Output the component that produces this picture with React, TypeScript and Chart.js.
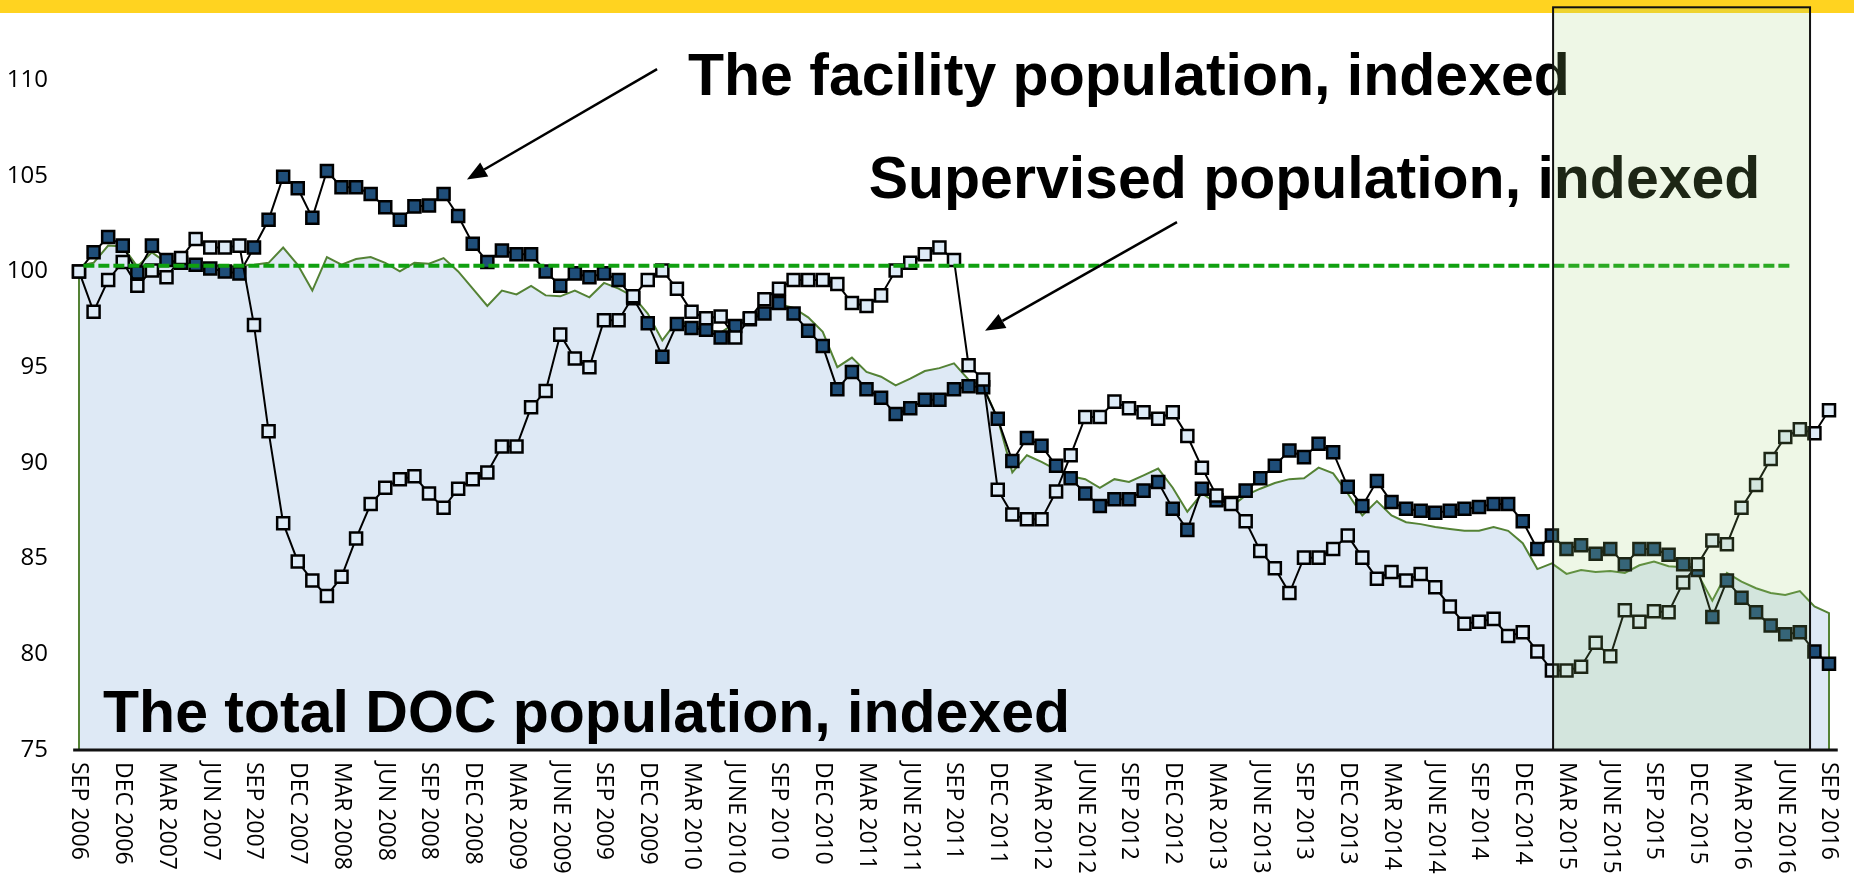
import React, { useEffect, useRef } from "react";
import { Chart, registerables } from "chart.js";

Chart.register(...registerables);

const CANVAS_W = 1854;
const CANVAS_H = 881;

// Quarterly tick labels (every 3 months, starting SEP 2006)
const TICK_LABELS = [
  "SEP 2006", "DEC 2006", "MAR 2007", "JUN 2007", "SEP 2007", "DEC 2007",
  "MAR 2008", "JUN 2008", "SEP 2008", "DEC 2008", "MAR 2009", "JUNE 2009",
  "SEP 2009", "DEC 2009", "MAR 2010", "JUNE 2010", "SEP 2010", "DEC 2010",
  "MAR 2011", "JUNE 2011", "SEP 2011", "DEC 2011", "MAR 2012", "JUNE 2012",
  "SEP 2012", "DEC 2012", "MAR 2013", "JUNE 2013", "SEP 2013", "DEC 2013",
  "MAR 2014", "JUNE 2014", "SEP 2014", "DEC 2014", "MAR 2015", "JUNE 2015",
  "SEP 2015", "DEC 2015", "MAR 2016", "JUNE 2016", "SEP 2016",
];
const MONTHS_PER_TICK = 3;

const Y_MIN = 75;
const Y_MAX = 113.45;
const Y_STEP = 5;

// Monthly values, SEP 2006 .. SEP 2016 (121 months), indexed
const FACILITY = [
  100.0, 101.0, 101.8, 101.35, 99.95, 101.35, 100.6, 100.45, 100.35, 100.15,
  100.0, 99.9, 101.25, 102.7, 104.95, 104.35, 102.8, 105.25, 104.4, 104.4,
  104.05, 103.35, 102.7, 103.4, 103.45, 104.05, 102.9, 101.45, 100.5, 101.1,
  100.9, 100.9, 100.0, 99.25, 99.9, 99.7, 99.9, 99.55, 98.6, 97.3,
  95.55, 97.25, 97.05, 96.95, 96.55, 97.15, 97.5, 97.8, 98.35, 97.8,
  96.9, 96.1, 93.85, 94.75, 93.85, 93.4, 92.55, 92.85, 93.3, 93.3,
  93.85, 94.0, 93.95, 92.3, 90.1, 91.3, 90.9, 89.85, 89.2, 88.4,
  87.75, 88.1, 88.1, 88.55, 89.0, 87.6, 86.5, 88.65, 88.05, 87.9,
  88.55, 89.2, 89.85, 90.65, 90.3, 91.0, 90.55, 88.75, 87.75, 89.05,
  87.95, 87.6, 87.5, 87.4, 87.5, 87.6, 87.7, 87.85, 87.85, 86.95,
  85.5, 86.2, 85.5, 85.7, 85.25, 85.5, 84.7, 85.5, 85.5, 85.2,
  84.7, 84.4, 81.95, 83.85, 82.95, 82.2, 81.5, 81.05, 81.15, 80.15,
  79.5,
];

const SUPERVISED = [
  100.0, 97.9, 99.55, 100.5, 99.25, 100.05, 99.7, 100.7, 101.7, 101.25,
  101.25, 101.35, 97.2, 91.65, 86.85, 84.85, 83.85, 83.05, 84.05, 86.05,
  87.85, 88.7, 89.15, 89.3, 88.4, 87.65, 88.65, 89.15, 89.5, 90.85,
  90.85, 92.9, 93.75, 96.7, 95.45, 95.0, 97.45, 97.45, 98.7, 99.55,
  100.05, 99.1, 97.9, 97.55, 97.65, 96.55, 97.55, 98.55, 99.1, 99.55,
  99.55, 99.55, 99.35, 98.35, 98.2, 98.75, 100.05, 100.45, 100.9, 101.25,
  100.6, 95.1, 94.35, 88.6, 87.3, 87.05, 87.05, 88.5, 90.4, 92.4,
  92.4, 93.2, 92.85, 92.65, 92.3, 92.65, 91.4, 89.75, 88.3, 87.85,
  86.95, 85.4, 84.5, 83.2, 85.05, 85.05, 85.5, 86.2, 85.05, 83.95,
  84.3, 83.85, 84.2, 83.5, 82.5, 81.6, 81.7, 81.85, 80.95, 81.15,
  80.15, 79.15, 79.15, 79.35, 80.6, 79.9, 82.3, 81.7, 82.25, 82.2,
  83.75, 84.7, 85.95, 85.75, 87.65, 88.85, 90.2, 91.35, 91.75, 91.55,
  92.75,
];

const TOTAL = [
  100.3, 100.45, 101.35, 101.3, 100.25, 101.0, 100.45, 100.4, 100.3, 100.3,
  100.3, 100.3, 100.35, 100.45, 101.25, 100.35, 99.0, 100.75, 100.35, 100.65,
  100.75, 100.45, 100.0, 100.45, 100.4, 100.7, 100.0, 99.1, 98.2, 99.0,
  98.8, 99.25, 98.75, 98.7, 99.0, 98.65, 99.4, 99.1, 98.7, 97.8,
  96.4, 97.4, 97.2, 97.0, 96.8, 97.3, 97.6, 97.9, 98.3, 98.1,
  97.6, 96.85, 95.0, 95.5, 94.75, 94.5, 94.05, 94.4, 94.8, 94.95,
  95.2, 94.35, 94.0, 92.3, 89.5, 90.4, 90.05, 89.65, 89.3, 89.15,
  88.7, 89.15, 89.0, 89.35, 89.7, 88.7, 87.45, 88.4, 87.9, 87.7,
  88.3, 88.65, 88.95, 89.15, 89.2, 89.75, 89.45, 88.4, 87.25, 88.0,
  87.25, 86.9, 86.8, 86.65, 86.55, 86.45, 86.45, 86.65, 86.45, 85.8,
  84.45, 84.75, 84.2, 84.4, 84.3, 84.35, 84.25, 84.65, 84.85, 84.6,
  84.55, 84.2, 82.8, 84.25, 83.8, 83.45, 83.2, 83.1, 83.3, 82.5,
  82.15,
];

// Dashed reference level
const REF_LEVEL = 100.3;
const REF_FROM = 0.3;
const REF_TO = 117.5;

// Annotations (in data units: month index, index value)
const NOTES = [
  { text: "The facility population, indexed", x: 41.76, y: 109.22 },
  { text: "Supervised population, indexed", x: 54.15, y: 103.84 },
  { text: "The total DOC population, indexed", x: 1.65, y: 75.95 },
];
const ARROWS = [
  { from: [39.64, 110.57], to: [26.6, 104.8] },
  { from: [75.29, 102.58], to: [62.13, 96.9] },
];
const HIGHLIGHT = { x0: 101.08, x1: 118.7, y0: 75, y1: 113.8 };

const toPts = (arr: number[]) => arr.map((v, i) => ({ x: i, y: v }));

const decorPlugin = {
  id: "decor",
  beforeDraw(chart: any) {
    const ctx = chart.ctx;
    ctx.save();
    ctx.fillStyle = "#ffffff";
    ctx.fillRect(0, 0, chart.width, chart.height);
    ctx.fillStyle = "#FFD320";
    ctx.fillRect(0, 0, chart.width, 13);
    ctx.restore();
  },
  afterDraw(chart: any) {
    const { ctx, chartArea } = chart;
    const xs = chart.scales.x;
    const ys = chart.scales.y;
    const X = (v: number) => xs.getPixelForValue(v);
    const Y = (v: number) => ys.getPixelForValue(v);
    ctx.save();

    // Notes
    ctx.font = 'bold 59px "Liberation Sans", Arial, sans-serif';
    ctx.fillStyle = "#000";
    ctx.textAlign = "left";
    ctx.textBaseline = "alphabetic";
    NOTES.forEach((n) => ctx.fillText(n.text, X(n.x), Y(n.y)));

    // Arrows
    ARROWS.forEach((a) => {
      const x1 = X(a.from[0]);
      const y1 = Y(a.from[1]);
      const x2 = X(a.to[0]);
      const y2 = Y(a.to[1]);
      const ang = Math.atan2(y2 - y1, x2 - x1);
      const headLen = 20;
      const headW = 8;
      const bx = x2 - headLen * Math.cos(ang);
      const by = y2 - headLen * Math.sin(ang);
      ctx.strokeStyle = "#000";
      ctx.lineWidth = 2.5;
      ctx.beginPath();
      ctx.moveTo(x1, y1);
      ctx.lineTo(bx, by);
      ctx.stroke();
      ctx.fillStyle = "#000";
      ctx.beginPath();
      ctx.moveTo(x2, y2);
      ctx.lineTo(bx + headW * Math.sin(ang), by - headW * Math.cos(ang));
      ctx.lineTo(bx - headW * Math.sin(ang), by + headW * Math.cos(ang));
      ctx.closePath();
      ctx.fill();
    });

    // Highlight rectangle
    const rx0 = X(HIGHLIGHT.x0);
    const rx1 = X(HIGHLIGHT.x1);
    const ry0 = Y(HIGHLIGHT.y1);
    const ry1 = Y(HIGHLIGHT.y0);
    ctx.fillStyle = "rgba(161,211,116,0.18)";
    ctx.fillRect(rx0, ry0, rx1 - rx0, ry1 - ry0);
    ctx.strokeStyle = "#111";
    ctx.lineWidth = 2;
    ctx.strokeRect(rx0, ry0, rx1 - rx0, ry1 - ry0);

    // X axis line
    ctx.strokeStyle = "#111";
    ctx.lineWidth = 3;
    ctx.beginPath();
    ctx.moveTo(X(-0.4), chartArea.bottom);
    ctx.lineTo(X(TOTAL.length - 1 + 0.6), chartArea.bottom);
    ctx.stroke();

    // X tick labels (rotated clockwise, reading top to bottom)
    ctx.font = '23px "Open Sans", sans-serif';
    ctx.fillStyle = "#000";
    TICK_LABELS.forEach((lab, k) => {
      ctx.save();
      ctx.translate(X(k * MONTHS_PER_TICK), chartArea.bottom + 12);
      ctx.rotate(Math.PI / 2);
      ctx.textAlign = "left";
      ctx.textBaseline = "middle";
      ctx.fillText(lab, 0, 0);
      ctx.restore();
    });

    ctx.restore();
  },
};

export default function App() {
  const ref = useRef<HTMLCanvasElement>(null);

  useEffect(() => {
    const canvas = ref.current;
    if (!canvas) return;
    const last = TOTAL.length - 1;
    const chart = new Chart(canvas, {
      type: "line",
      data: {
        datasets: [
          {
            label: "Reference",
            data: [
              { x: REF_FROM, y: REF_LEVEL },
              { x: REF_TO, y: REF_LEVEL },
            ],
            borderColor: "#10A010",
            borderWidth: 4,
            borderDash: [11, 4],
            pointRadius: 0,
            fill: false,
            order: 1,
            clip: false,
          } as any,
          {
            label: "Supervised population, indexed",
            data: toPts(SUPERVISED),
            borderColor: "#000",
            borderWidth: 2,
            pointStyle: "rect",
            pointRadius: 8.5,
            pointBackgroundColor: "#DEEBF7",
            pointBorderColor: "#000",
            pointBorderWidth: 2.5,
            fill: false,
            tension: 0,
            order: 2,
            clip: false,
          },
          {
            label: "The facility population, indexed",
            data: toPts(FACILITY),
            borderColor: "#000",
            borderWidth: 2,
            pointStyle: "rect",
            pointRadius: 8.5,
            pointBackgroundColor: "#1F4E79",
            pointBorderColor: "#000",
            pointBorderWidth: 2.5,
            fill: false,
            tension: 0,
            order: 3,
            clip: false,
          },
          {
            label: "The total DOC population, indexed",
            data: [
              { x: 0, y: Y_MIN },
              ...toPts(TOTAL),
              { x: last, y: Y_MIN },
            ],
            borderColor: "#548235",
            borderWidth: 2,
            backgroundColor: "#DEE9F5",
            pointRadius: 0,
            fill: "start",
            tension: 0,
            order: 4,
            clip: false,
          },
        ],
      },
      options: {
        responsive: false,
        maintainAspectRatio: false,
        animation: false,
        devicePixelRatio: 1,
        events: [],
        layout: { padding: { top: 14, right: 25, bottom: 0, left: 0 } },
        plugins: {
          legend: { display: false },
          tooltip: { enabled: false },
          title: { display: false },
        },
        scales: {
          x: {
            type: "linear",
            min: 0,
            max: last,
            grid: { display: false, drawTicks: false },
            border: { display: false },
            ticks: { display: false },
            afterFit: (s: any) => {
              s.height = CANVAS_H - 750;
              s.paddingLeft = 0;
              s.paddingRight = 0;
            },
          },
          y: {
            type: "linear",
            min: Y_MIN,
            max: Y_MAX,
            grid: { display: false, drawTicks: false },
            border: { display: false },
            ticks: {
              stepSize: Y_STEP,
              includeBounds: false,
              padding: 31,
              color: "#000",
              font: { family: '"Open Sans", sans-serif', size: 24 },
            },
            afterFit: (s: any) => {
              s.width = 79;
              s.paddingTop = 0;
              s.paddingBottom = 0;
            },
          },
        },
      } as any,
      plugins: [decorPlugin],
    });
    return () => chart.destroy();
  }, []);

  return (
    <div
      style={{
        position: "fixed",
        left: 0,
        top: 0,
        width: CANVAS_W,
        height: CANVAS_H,
        background: "#fff",
      }}
    >
      <canvas
        ref={ref}
        width={CANVAS_W}
        height={CANVAS_H}
        style={{ display: "block", width: CANVAS_W, height: CANVAS_H }}
      />
    </div>
  );
}
